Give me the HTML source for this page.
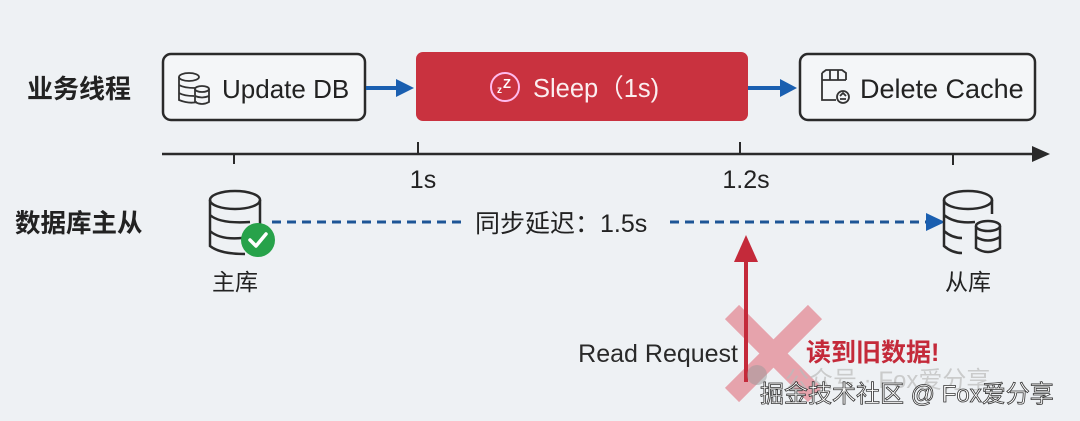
<!DOCTYPE html>
<html><head><meta charset="utf-8"><style>
html,body{margin:0;padding:0;background:#eef1f4;}
svg{display:block}
text{font-family:"Liberation Sans","Noto Sans CJK SC",sans-serif;}
</style></head><body>
<svg width="1080" height="421" viewBox="0 0 1080 421" xmlns="http://www.w3.org/2000/svg">
<rect width="1080" height="421" fill="#eef1f4"/>
<text x="27" y="98" font-size="26" font-weight="bold" fill="#222">业务线程</text>
<text x="15" y="232" font-size="25.5" font-weight="bold" fill="#222">数据库主从</text>
<rect x="163" y="54" width="202" height="66" rx="8" fill="#f4f6f8" stroke="#2a2a2a" stroke-width="2.5"/>
<g fill="none" stroke="#333" stroke-width="1.8">
<ellipse cx="189" cy="77" rx="10" ry="4"/>
<path d="M179 77 V100 Q189 104 197 102 M179 85 Q184 88 195 88 M179 93 Q184 96 194 96"/>
<ellipse cx="202" cy="89" rx="7" ry="3"/>
<path d="M195 89 V102 Q202 106 209 102 V89 M195 96 Q202 99 209 96"/>
</g>
<text x="222" y="98" font-size="26" fill="#222">Update DB</text>
<line x1="366" y1="88" x2="398" y2="88" stroke="#1a5fb0" stroke-width="4"/>
<polygon points="396,79 414,88 396,97" fill="#1a5fb0"/>
<rect x="416" y="52" width="332" height="69" rx="7" fill="#c9323f"/>
<circle cx="505" cy="87" r="14" fill="none" stroke="#fbe" stroke-width="2"/>
<text x="497" y="93" font-size="10" fill="#fff" font-weight="bold">z</text>
<text x="503" y="88" font-size="13" fill="#fff" font-weight="bold">Z</text>
<text x="533" y="97" font-size="25.5" fill="#fbeef0">Sleep（1s)</text>
<line x1="748" y1="88" x2="782" y2="88" stroke="#1a5fb0" stroke-width="4"/>
<polygon points="780,79 797,88 780,97" fill="#1a5fb0"/>
<rect x="800" y="54" width="235" height="66" rx="8" fill="#f4f6f8" stroke="#2a2a2a" stroke-width="2.5"/>
<g fill="none" stroke="#333" stroke-width="1.8">
<path d="M822 73 L826 70 H842 L846 73 V80 M822 73 V100 H836 M822 80 H846 M830 70 V80 M838 70 V80"/>
<circle cx="843" cy="97" r="6"/>
<path d="M840 96 L843 93 L846 96 M840 99 H846"/>
</g>
<text x="860" y="98" font-size="27" fill="#222">Delete Cache</text>
<line x1="162" y1="154" x2="1036" y2="154" stroke="#2a2a2a" stroke-width="2.5"/>
<polygon points="1032,146 1050,154 1032,162" fill="#2a2a2a"/>
<line x1="234" y1="154" x2="234" y2="164" stroke="#2a2a2a" stroke-width="2"/>
<line x1="418" y1="142" x2="418" y2="154" stroke="#2a2a2a" stroke-width="2"/>
<line x1="740" y1="142" x2="740" y2="154" stroke="#2a2a2a" stroke-width="2"/>
<line x1="953" y1="154" x2="953" y2="165" stroke="#2a2a2a" stroke-width="2"/>
<text x="423" y="188" font-size="25" fill="#222" text-anchor="middle">1s</text>
<text x="746" y="188" font-size="25" fill="#222" text-anchor="middle">1.2s</text>
<g fill="none" stroke="#2a2a2a" stroke-width="2.5">
<ellipse cx="235" cy="200" rx="25" ry="9"/>
<path d="M210 200 V246 Q220 254 245 254 M210 215 Q220 224 250 222 M210 231 Q220 240 242 238 M260 200 V225"/>
</g>
<circle cx="258" cy="240" r="17" fill="#27a24a"/>
<path d="M250 240 L256 246 L266 234" fill="none" stroke="#fff" stroke-width="3.5" stroke-linecap="round" stroke-linejoin="round"/>
<text x="235" y="290" font-size="23" fill="#222" text-anchor="middle">主库</text>
<line x1="272" y1="222" x2="466" y2="222" stroke="#1d5596" stroke-width="3" stroke-dasharray="9,6"/>
<text x="475" y="232" font-size="25" fill="#222">同步延迟：1.5s</text>
<line x1="670" y1="222" x2="928" y2="222" stroke="#1d5596" stroke-width="3" stroke-dasharray="9,6"/>
<polygon points="926,213 945,222 926,231" fill="#1a5fb0"/>
<g fill="none" stroke="#2a2a2a" stroke-width="2.5">
<ellipse cx="968" cy="200" rx="24" ry="9"/>
<path d="M944 200 V246 Q952 253 962 253 M944 215 Q955 224 975 222 M944 231 Q952 238 962 238 M992 200 V214"/>
<ellipse cx="988" cy="226" rx="12" ry="5"/>
<path d="M976 226 V248 Q988 256 1000 248 V226 M976 237 Q988 244 1000 237"/>
</g>
<text x="968" y="290" font-size="23" fill="#222" text-anchor="middle">从库</text>
<g stroke="#e48a94" stroke-width="20" opacity="0.75">
<line x1="732" y1="312" x2="815" y2="395"/>
<line x1="815" y1="312" x2="732" y2="395"/>
</g>
<line x1="746" y1="258" x2="746" y2="382" stroke="#c42a3a" stroke-width="4"/>
<polygon points="734,262 746,235 758,262" fill="#c42a3a"/>
<text x="738" y="362" font-size="25" fill="#2a2a2a" text-anchor="end">Read Request</text>
<text x="806" y="361" font-size="25" font-weight="bold" fill="#c42a3a">读到旧数据!</text>
<circle cx="757" cy="375" r="10" fill="#999" opacity="0.5"/>
<text x="785" y="388" font-size="24" fill="#bbb" opacity="0.7">公众号 · Fox爱分享</text>
<text x="760" y="402" font-size="24" fill="#fff" stroke="#333" stroke-width="0.8">掘金技术社区 @ Fox爱分享</text>
</svg>
</body></html>
